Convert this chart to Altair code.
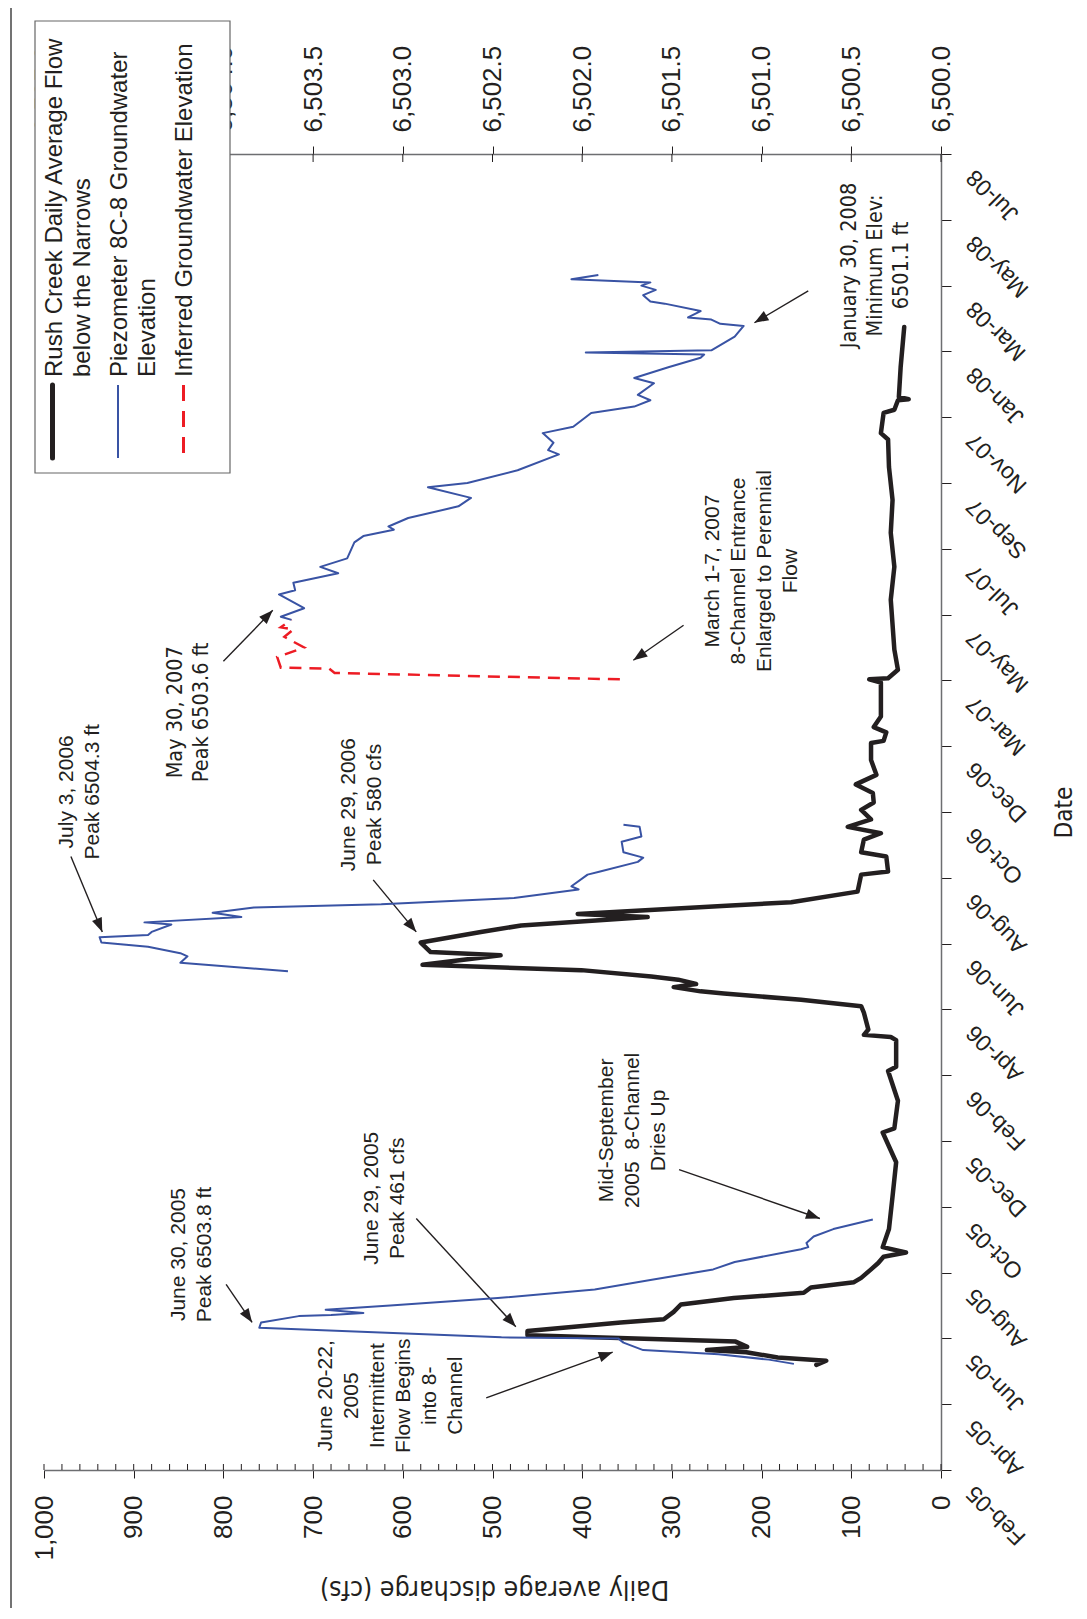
import math
import altair as alt
import pandas as pd

# ---------------- axis ticks ----------------
DATE_MIN, DATE_MAX = "2005-02-16", "2008-07-10"
date_ticks = ["2005-02-16", "2005-04-19", "2005-06-20", "2005-08-21", "2005-10-22",
              "2005-12-23", "2006-02-23", "2006-04-26", "2006-06-27", "2006-08-28",
              "2006-10-29", "2006-12-30", "2007-03-02", "2007-05-03", "2007-07-04",
              "2007-09-04", "2007-11-05", "2008-01-06", "2008-03-08", "2008-05-09",
              "2008-07-10"]
cfs_ticks = [0, 100, 200, 300, 400, 500, 600, 700, 800, 900, 1000]
cfs_minor = [v for v in range(0, 1001, 20)]
elev_ticks = [6500.0, 6500.5, 6501.0, 6501.5, 6502.0, 6502.5, 6503.0, 6503.5, 6504.0, 6504.5, 6505.0]

# ---------------- Rush Creek daily average flow (cfs) ----------------
flow_dates = ["2005-05-26", "2005-05-30", "2005-06-02", "2005-06-07", "2005-06-09", "2005-06-12",
              "2005-06-17", "2005-06-23", "2005-06-27", "2005-07-05", "2005-07-08", "2005-07-15",
              "2005-07-22", "2005-07-28", "2005-08-02", "2005-08-07", "2005-08-12", "2005-08-16",
              "2005-08-24", "2005-08-30", "2005-09-05", "2005-09-09", "2005-09-14", "2005-10-01",
              "2005-11-01", "2005-12-03", "2005-12-31", "2006-01-04", "2006-01-30", "2006-02-27",
              "2006-03-03", "2006-03-28", "2006-03-31", "2006-04-02", "2006-04-07", "2006-04-23",
              "2006-04-29", "2006-05-05", "2006-05-11", "2006-05-13", "2006-05-17", "2006-05-20",
              "2006-05-24", "2006-05-27", "2006-06-02", "2006-06-07", "2006-06-16", "2006-06-19",
              "2006-06-28", "2006-07-08", "2006-07-14", "2006-07-22", "2006-07-25", "2006-08-02",
              "2006-08-05", "2006-08-15", "2006-08-31", "2006-09-03", "2006-09-17", "2006-09-21",
              "2006-10-03", "2006-10-09", "2006-10-15", "2006-10-22", "2006-10-31", "2006-11-07",
              "2006-11-16", "2006-11-24", "2006-12-03", "2006-12-17", "2007-01-02", "2007-01-04",
              "2007-01-12", "2007-01-17", "2007-01-27", "2007-02-28", "2007-03-03", "2007-03-04",
              "2007-03-12", "2007-03-31", "2007-05-17", "2007-06-17", "2007-07-19", "2007-08-19",
              "2007-09-19", "2007-10-15", "2007-10-21", "2007-11-09", "2007-11-12", "2007-11-21",
              "2007-11-22", "2007-11-24", "2007-12-22", "2008-01-29"]
flow_cfs = [139, 128, 182, 217, 261, 216,
            229, 461, 461, 357, 309, 298,
            290, 231, 153, 145, 97, 89,
            78, 70, 64, 39, 65, 58,
            54, 50, 65, 52, 48, 59,
            50, 50, 56, 86, 81, 86,
            89, 156, 242, 268, 298, 273,
            293, 323, 401, 578, 491, 569,
            580, 513, 468, 327, 405, 234,
            167, 93, 89, 59, 61, 89,
            86, 67, 104, 78, 89, 75,
            76, 95, 72, 78, 78, 64,
            61, 75, 67, 67, 80, 59,
            48, 52, 56, 52, 56, 54,
            58, 59, 67, 64, 52, 48,
            36, 47, 45, 41]

# ---------------- Piezometer 8C-8 groundwater elevation (ft) ----------------
pz05_dates = ["2005-05-27", "2005-05-31", "2005-06-05", "2005-06-09", "2005-06-16", "2005-06-20",
              "2005-06-21", "2005-06-30", "2005-07-05", "2005-07-11", "2005-07-12", "2005-07-14",
              "2005-07-17", "2005-07-21", "2005-07-28", "2005-08-05", "2005-08-14", "2005-08-24",
              "2005-08-31", "2005-09-12", "2005-09-14", "2005-09-18", "2005-09-24", "2005-10-01",
              "2005-10-10"]
pz05_elev = [6500.82, 6500.96, 6501.24, 6501.66, 6501.77, 6501.80,
             6502.45, 6503.80, 6503.79, 6503.58, 6503.40, 6503.22,
             6503.43, 6503.07, 6502.47, 6501.93, 6501.62, 6501.27,
             6501.15, 6500.78, 6500.74, 6500.75, 6500.71, 6500.60,
             6500.38]
pz06_dates = ["2006-06-01", "2006-06-09", "2006-06-15", "2006-06-18", "2006-06-24", "2006-06-28",
              "2006-07-03", "2006-07-05", "2006-07-08", "2006-07-15", "2006-07-17", "2006-07-22",
              "2006-07-26", "2006-07-31", "2006-08-03", "2006-08-09", "2006-08-17", "2006-08-20",
              "2006-08-31", "2006-09-03", "2006-09-12", "2006-09-16", "2006-09-21", "2006-10-01",
              "2006-10-06", "2006-10-15", "2006-10-17"]
pz06_elev = [6503.64, 6504.24, 6504.20, 6504.24, 6504.42, 6504.68,
             6504.69, 6504.42, 6504.40, 6504.29, 6504.44, 6503.90,
             6504.06, 6503.83, 6503.12, 6502.38, 6502.02, 6502.06,
             6501.97, 6501.90, 6501.69, 6501.66, 6501.77, 6501.78,
             6501.67, 6501.68, 6501.77]
pz07_dates = ["2007-04-28", "2007-05-01", "2007-05-09", "2007-05-22", "2007-05-26", "2007-06-02",
              "2007-06-11", "2007-06-17", "2007-06-25", "2007-07-10", "2007-07-16", "2007-07-22",
              "2007-07-25", "2007-08-02", "2007-08-13", "2007-08-21", "2007-08-31", "2007-09-04",
              "2007-09-16", "2007-10-01", "2007-10-05", "2007-10-12", "2007-10-21", "2007-10-27",
              "2007-11-09", "2007-11-15", "2007-11-21", "2007-11-26", "2007-12-07", "2007-12-12",
              "2007-12-22", "2007-12-31", "2008-01-03", "2008-01-05", "2008-01-07", "2008-01-20",
              "2008-01-30", "2008-02-01", "2008-02-05", "2008-02-07", "2008-02-13", "2008-02-20",
              "2008-02-22", "2008-02-28", "2008-03-04", "2008-03-08", "2008-03-11", "2008-03-14",
              "2008-03-18"]
pz07_elev = [6503.62, 6503.68, 6503.55, 6503.69, 6503.60, 6503.61,
             6503.36, 6503.46, 6503.31, 6503.27, 6503.22, 6503.05,
             6503.08, 6502.97, 6502.69, 6502.62, 6502.86, 6502.64,
             6502.36, 6502.13, 6502.19, 6502.16, 6502.22, 6502.05,
             6501.95, 6501.71, 6501.62, 6501.69, 6501.60, 6501.71,
             6501.52, 6501.34, 6501.32, 6501.98, 6501.28, 6501.15,
             6501.10, 6501.23, 6501.28, 6501.41, 6501.34, 6501.54,
             6501.62, 6501.66, 6501.59, 6501.67, 6501.62, 6502.06,
             6501.91]

# ---------------- Inferred groundwater elevation (ft) ----------------
inf_dates = ["2007-03-03", "2007-03-09", "2007-03-13", "2007-03-14", "2007-03-24", "2007-04-02",
             "2007-04-12", "2007-04-19", "2007-04-21", "2007-04-28"]
inf_elev = [6501.79, 6503.38, 6503.41, 6503.68, 6503.70, 6503.55,
            6503.66, 6503.61, 6503.68, 6503.62]

# ---------------- annotations (anchored in date / cfs units) ----------------
ann_lines = [["June 30, 2005", "Peak 6503.8 ft"],
             ["June 29, 2005", "Peak 461 cfs"],
             ["June 20-22,", "2005", "Intermittent", "Flow Begins", "into 8-", "Channel"],
             ["Mid-September", "2005\u00a0 8-Channel", "Dries Up"],
             ["July 3, 2006", "Peak 6504.3 ft"],
             ["June 29, 2006", "Peak 580 cfs"],
             ["March 1-7, 2007", "8-Channel Entrance", "Enlarged to Perennial", "Flow"],
             ["May 30, 2007", "Peak 6503.6 ft"],
             ["January 30, 2008", "Minimum Elev:", "6501.1 ft"]]
ann_date = ["2005-09-07", "2005-10-30", "2005-04-27", "2006-01-02", "2006-11-17",
            "2006-11-05", "2007-06-13", "2007-01-31", "2008-03-27"]
ann_cfs = [862, 647, 698, 385, 987, 672, 266, 865, 114]
ann_narrow = [False, False, False, False, False, False, False, True, True]

arr_tail_date = ["2005-08-10", "2005-10-11", "2005-04-25", "2005-11-26", "2006-09-17",
                 "2006-08-26", "2007-03-20", "2007-04-23", "2008-03-03"]
arr_tail_cfs = [797, 585, 507, 292, 970, 633, 800, 287, 148]
arr_tip_date = ["2005-07-05", "2005-07-01", "2005-06-07", "2005-10-11", "2006-07-08",
                "2006-07-08", "2007-05-07", "2007-03-21", "2008-02-02"]
arr_tip_cfs = [768, 474, 366, 135, 935, 585, 745, 343, 208]

legend_labels = ["Rush Creek Daily Average Flow\nbelow the Narrows",
                 "Piezometer 8C-8 Groundwater\nElevation",
                 "Inferred Groundwater Elevation"]

# ---------------- styling / layout ----------------
W, H = 897, 1316
PAD = {"left": 36, "top": 146, "right": 136, "bottom": 138}
FONT = "Liberation Sans, Arial, Helvetica, sans-serif"
NARROW = "Liberation Sans Narrow, DejaVu Sans Condensed, Liberation Sans, sans-serif"
INK = "#231f20"
BLUE = "#3953a4"
RED = "#ed1c24"
AXISGRAY = "#6d6e71"


def ms(s):
    return int(pd.Timestamp(s, tz="UTC").value // 10**6)


t0, t1 = pd.Timestamp(DATE_MIN), pd.Timestamp(DATE_MAX)

y_scale = alt.Scale(type="utc", domain=[ms(DATE_MIN), ms(DATE_MAX)], nice=False)
date_axis = alt.Axis(
    orient="right", values=[ms(t) for t in date_ticks],
    labelExpr="utcFormat(datum.value, '%b-%y')",
    labelAngle=225, labelAlign="right", labelBaseline="middle",
    labelPadding=19, labelOffset=19, labelFont=FONT, labelFontSize=23, labelColor=INK,
    labelOverlap=False, labelFlush=False, labelBound=False,
    tickSize=10, tickColor=INK, tickWidth=1, domainColor=AXISGRAY, domainWidth=1.5,
    grid=False, title="Date", titleAngle=270, titleX=123, titleY=658,
    titleAlign="center", titleBaseline="middle", titleFont=NARROW, titleFontSize=24,
    titleFontWeight="normal", titleColor=INK, zindex=0)
Y = alt.Y("date:T", scale=y_scale, axis=date_axis)

cfs_scale = alt.Scale(domain=[0, 1000], reverse=True, nice=False, zero=False)
cfs_axis = alt.Axis(
    orient="bottom", values=cfs_ticks, format=",d",
    labelAngle=270, labelAlign="right", labelBaseline="middle", labelPadding=17,
    labelFont=FONT, labelFontSize=26, labelColor=INK, labelOverlap=False,
    labelFlush=False, labelBound=False,
    tickSize=8, tickColor=INK, tickWidth=1, domainColor=AXISGRAY, domainWidth=1.5,
    grid=False, title="Daily average discharge (cfs)", titleAngle=180,
    titleX=450, titleY=118, titleAlign="center", titleBaseline="middle",
    titleFont=NARROW, titleFontSize=26.5, titleFontWeight="normal", titleColor=INK,
    zindex=0)
XC = alt.X("cfs:Q", scale=cfs_scale, axis=cfs_axis)

elev_scale = alt.Scale(domain=[6500, 6505], reverse=True, nice=False, zero=False)
elev_axis = alt.Axis(
    orient="top", values=elev_ticks, format=",.1f",
    labelAngle=270, labelAlign="left", labelBaseline="middle", labelPadding=14,
    labelFont=FONT, labelFontSize=26, labelColor=INK, labelOverlap=False,
    labelFlush=False, labelBound=False,
    tickSize=8, tickColor=INK, tickWidth=1, domainColor=AXISGRAY, domainWidth=1.5,
    grid=False, title=None, zindex=0)
XE = alt.X("elev:Q", scale=elev_scale, axis=elev_axis)

# ---------------- data frames ----------------
flow_df = pd.DataFrame({"date": flow_dates, "cfs": flow_cfs})
flow_df["i"] = range(len(flow_df))

pz_rows = []
for seg, (ds, vs) in enumerate([(pz05_dates, pz05_elev), (pz06_dates, pz06_elev),
                                 (pz07_dates, pz07_elev)]):
    for d, v in zip(ds, vs):
        pz_rows.append({"date": d, "elev": v, "seg": seg})
pz_df = pd.DataFrame(pz_rows)
pz_df["i"] = range(len(pz_df))

inf_df = pd.DataFrame({"date": inf_dates, "elev": inf_elev})
inf_df["i"] = range(len(inf_df))

ann_df = pd.DataFrame({"date": ann_date, "cfs": ann_cfs,
                       "text": ["\n".join(l) for l in ann_lines], "narrow": ann_narrow})


def px(c):
    return W * (1 - c / 1000.0)


def py(d):
    return H * (1 - (pd.Timestamp(d) - t0) / (t1 - t0))


angles = []
for td, tc, hd, hc in zip(arr_tail_date, arr_tail_cfs, arr_tip_date, arr_tip_cfs):
    dx = px(hc) - px(tc)
    dy = py(hd) - py(td)
    angles.append(math.degrees(math.atan2(dx, -dy)) % 360)
arr_df = pd.DataFrame({"date": arr_tail_date, "cfs": arr_tail_cfs,
                       "date2": arr_tip_date, "cfs2": arr_tip_cfs})
head_df = pd.DataFrame({"date": arr_tip_date, "cfs": arr_tip_cfs, "ang": angles})

# ---------------- discharge-side layers ----------------
black = alt.Chart(flow_df).mark_line(
    color=INK, strokeWidth=4.5, strokeJoin="round", strokeCap="round"
).encode(x=XC, y=Y, order="i:Q")

cfs_inner = alt.Chart(pd.DataFrame({"cfs": cfs_minor})).mark_rule(
    color=INK, strokeWidth=1
).encode(x=XC, y=alt.value(H - 6), y2=alt.value(H))

arrows = alt.Chart(arr_df).mark_rule(color=INK, strokeWidth=1.4).encode(
    x=XC, x2=alt.X2("cfs2:Q"), y=Y, y2=alt.Y2("date2:T"))

heads = alt.Chart(head_df).mark_point(
    shape="M0,0L0.75,2L-0.75,2Z", filled=True, size=196, color=INK, opacity=1, strokeWidth=0
).encode(x=XC, y=Y, angle=alt.Angle("ang:Q", scale=None))

ann_reg = alt.Chart(ann_df).transform_filter("!datum.narrow").mark_text(
    angle=270, align="center", baseline="top", font=FONT, fontSize=21,
    lineHeight=26, lineBreak="\n", color=INK
).encode(x=XC, y=Y, text="text:N")

ann_nar = alt.Chart(ann_df).transform_filter("datum.narrow").mark_text(
    angle=270, align="center", baseline="top", font=NARROW, fontSize=21.5,
    lineHeight=26, lineBreak="\n", color=INK
).encode(x=XC, y=Y, text="text:N")

cfs_group = alt.layer(black, cfs_inner, arrows, heads, ann_reg, ann_nar)

# ---------------- elevation-side layers ----------------
blue = alt.Chart(pz_df).mark_line(color=BLUE, strokeWidth=2, strokeJoin="round").encode(
    x=XE, y=Y, detail="seg:N", order="i:Q")
red = alt.Chart(inf_df).mark_line(color=RED, strokeWidth=2.5, strokeDash=[12, 8]).encode(
    x=XE, y=Y, order="i:Q")
elev_inner = alt.Chart(pd.DataFrame({"elev": elev_ticks})).mark_rule(
    color=INK, strokeWidth=1
).encode(x=XE, y=alt.value(0), y2=alt.value(8))

elev_group = alt.layer(blue, red, elev_inner)

# ---------------- hand-drawn rotated legend + frame ----------------
one = pd.DataFrame({"k": [0]})
frame = alt.Chart(one).mark_rule(color="#444444", strokeWidth=1.5).encode(
    x=alt.value(-33), y=alt.value(-146), y2=alt.value(H + PAD["bottom"]))
box = alt.Chart(one).mark_rect(fill="white", stroke="#666666", strokeWidth=1.2).encode(
    x=alt.value(-9), x2=alt.value(186), y=alt.value(-133), y2=alt.value(319))
sw_black = alt.Chart(one).mark_rule(color=INK, strokeWidth=5, strokeCap="round").encode(
    x=alt.value(8.5), y=alt.value(231), y2=alt.value(304))
sw_blue = alt.Chart(one).mark_rule(color=BLUE, strokeWidth=2).encode(
    x=alt.value(74), y=alt.value(231), y2=alt.value(304))
sw_red = alt.Chart(one).mark_rule(color=RED, strokeWidth=3, strokeDash=[16, 10]).encode(
    x=alt.value(139.5), y=alt.value(231), y2=alt.value(304))
leg_texts = []
for lbl, xx in zip(legend_labels, [-0.8, 64.2, 129.2]):
    leg_texts.append(alt.Chart(one).mark_text(
        text=lbl, angle=270, align="left", baseline="top", font=FONT, fontSize=24,
        lineHeight=28.3, lineBreak="\n", color=INK
    ).encode(x=alt.value(xx), y=alt.value(223)))

legend_group = alt.layer(frame, box, sw_black, sw_blue, sw_red, *leg_texts)

chart = alt.layer(cfs_group, elev_group, legend_group).resolve_scale(
    x="independent"
).properties(
    width=W, height=H, padding=PAD, autosize=alt.AutoSizeParams(type="none")
).configure_view(stroke="transparent")

chart.save("out.html", embed_options={"renderer": "svg", "actions": False})
